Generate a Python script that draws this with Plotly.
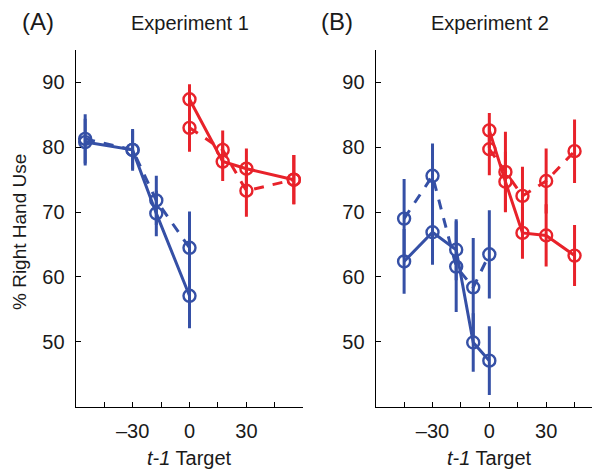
import plotly.graph_objects as go

# ---------------- data ----------------
# Experiment 1
e1_left_x = [-55, -30, -17.5, 0]
e1_left_solid = [80.8, 79.6, 69.8, 57.1]
e1_left_solid_err = [3.6, 3.0, 3.5, 5.0]
e1_left_dash = [81.3, 79.6, 71.8, 64.5]
e1_left_dash_err = [3.8, 3.2, 3.8, 5.6]

e1_right_x = [0, 17.5, 30, 55]
e1_right_solid = [87.4, 77.8, 76.7, 75.0]
e1_right_solid_err = [2.3, 3.0, 3.1, 3.8]
e1_right_dash = [83.0, 79.6, 73.3, 75.0]
e1_right_dash_err = [3.7, 3.0, 4.0, 3.8]

# Experiment 2
e2_left_x = [-45, -30, -17.5, -8.5, 0]
e2_left_solid = [62.4, 66.9, 64.2, 49.9, 47.1]
e2_left_solid_err = [5.0, 5.0, 4.7, 4.5, 5.3]
e2_left_dash = [69.0, 75.6, 61.6, 58.4, 63.5]
e2_left_dash_err = [6.1, 5.0, 7.0, 7.6, 6.8]

e2_right_x = [0, 8.5, 17.5, 30, 45]
e2_right_solid = [82.6, 74.7, 66.8, 66.4, 63.3]
e2_right_solid_err = [2.7, 4.6, 4.0, 4.8, 4.7]
e2_right_dash = [79.7, 76.2, 72.5, 74.8, 79.4]
e2_right_dash_err = [4.0, 6.2, 4.5, 5.0, 4.9]

x_tickvals = [-45, -30, -15, 0, 15, 30, 45]
x_ticktext = ["", "\u201330", "", "0", "", "30", ""]
y_tickvals = [50, 60, 70, 80, 90]
y_ticktext = ["50", "60", "70", "80", "90"]

BLUE = "#3550a6"
RED = "#e8222a"
FONT = "Liberation Sans, Arial, sans-serif"
DASH = "10px,9px"

fig = go.Figure()


def add_series(x, y, err, color, dash, xa, ya):
    fig.add_trace(go.Scatter(
        x=x, y=y, xaxis=xa, yaxis=ya, mode="lines+markers",
        line=dict(color=color, width=3, dash=dash),
        marker=dict(symbol="circle-open", size=12, color=color,
                    line=dict(width=2.4, color=color)),
        error_y=dict(type="data", array=err, visible=True, color=color,
                     thickness=3, width=0),
        showlegend=False, cliponaxis=False,
    ))


for xa, ya, lx, ls, lse, ld, lde, rx, rs, rse, rd, rde in [
    ("x", "y", e1_left_x, e1_left_solid, e1_left_solid_err, e1_left_dash, e1_left_dash_err,
     e1_right_x, e1_right_solid, e1_right_solid_err, e1_right_dash, e1_right_dash_err),
    ("x2", "y2", e2_left_x, e2_left_solid, e2_left_solid_err, e2_left_dash, e2_left_dash_err,
     e2_right_x, e2_right_solid, e2_right_solid_err, e2_right_dash, e2_right_dash_err),
]:
    add_series(lx, ld, lde, BLUE, DASH, xa, ya)
    add_series(lx, ls, lse, BLUE, "solid", xa, ya)
    add_series(rx, rd, rde, RED, DASH, xa, ya)
    add_series(rx, rs, rse, RED, "solid", xa, ya)

W, H = 592, 470
ydom = [(470 - 406.7) / H, (470 - 50) / H]

axis_common = dict(
    showline=True, linecolor="black", linewidth=1.2, mirror=False,
    ticks="inside", ticklen=5, tickwidth=1, tickcolor="black",
    showgrid=False, zeroline=False,
    tickfont=dict(family=FONT, size=20, color="#1a1a1a"),
)

fig.update_layout(
    width=W, height=H,
    margin=dict(l=0, r=0, t=0, b=0),
    paper_bgcolor="white", plot_bgcolor="white",
    font=dict(family=FONT, color="#1a1a1a"),
    xaxis=dict(domain=[75.7 / W, 303.3 / W], range=[-60, 60], anchor="y",
               tickvals=x_tickvals, ticktext=x_ticktext, ticklabelstandoff=6,
               **axis_common),
    yaxis=dict(domain=ydom, range=[40, 95], anchor="x",
               tickvals=y_tickvals, ticktext=y_ticktext, ticklabelstandoff=6,
               **axis_common),
    xaxis2=dict(domain=[375.7 / W, 1.0], range=[-60, (592 - 489.7) / 1.887], anchor="y2",
                tickvals=x_tickvals, ticktext=x_ticktext, ticklabelstandoff=6,
                **axis_common),
    yaxis2=dict(domain=ydom, range=[40, 95], anchor="x2",
                tickvals=y_tickvals, ticktext=y_ticktext, ticklabelstandoff=6,
                **axis_common),
)

def ann(text, x, y, size, angle=0):
    fig.add_annotation(text=text, x=x / W, y=1 - y / H, xref="paper", yref="paper",
                       showarrow=False, textangle=angle, xanchor="center", yanchor="middle",
                       font=dict(family=FONT, size=size, color="#1a1a1a"))

ann("(A)", 38, 22, 24)
ann("Experiment 1", 190, 23, 20)
ann("(B)", 337, 21, 24)
ann("Experiment 2", 490, 23, 20)
ann("% Right Hand Use", 19, 232, 19, -90)
ann("<i>t-1</i> Target", 189, 458, 20)
ann("<i>t-1</i> Target", 489, 458, 20)

fig.write_html("out.html")
